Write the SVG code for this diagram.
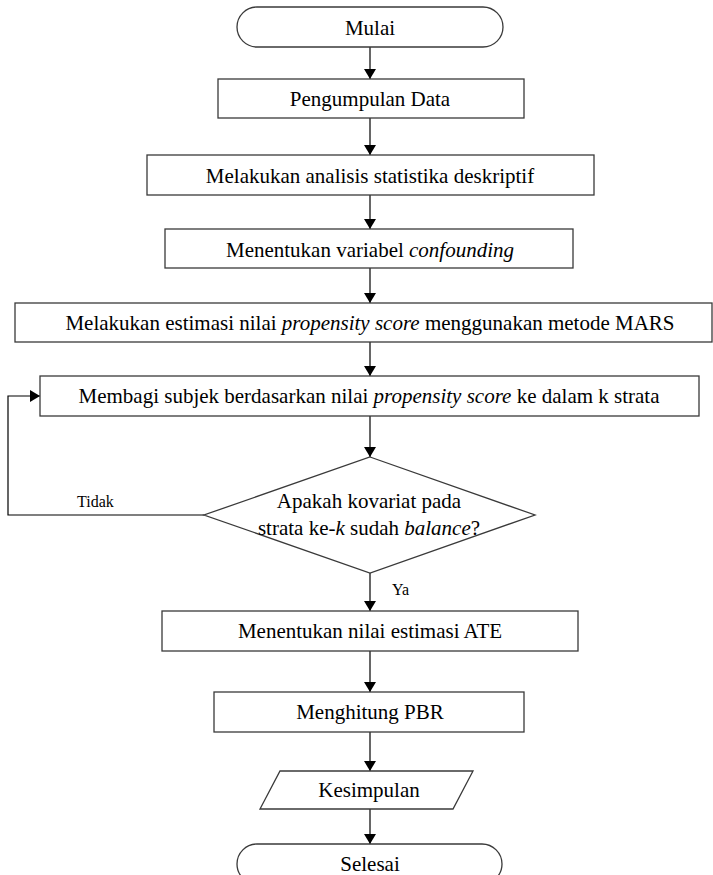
<svg xmlns="http://www.w3.org/2000/svg" width="713" height="875" viewBox="0 0 713 875">
<style>
.box{fill:#fff;stroke:#3a3a3a;stroke-width:1.3}
.t{font-family:"Liberation Serif","Times New Roman",serif;font-size:21px;fill:#000;text-anchor:middle}
.s{font-family:"Liberation Serif","Times New Roman",serif;font-size:16px;fill:#000}
.c{fill:none;stroke:#000;stroke-width:1.2}
</style>
<defs>
<marker id="ah" viewBox="0 0 10 12" refX="10" refY="6" markerWidth="10" markerHeight="12" markerUnits="userSpaceOnUse" orient="auto">
<path d="M0,0 L10,6 L0,12 Z" fill="#000"/>
</marker>
</defs>
<rect width="713" height="875" fill="#fff"/>
<g id="connectors">
<line class="c" x1="370" y1="47" x2="370" y2="79" marker-end="url(#ah)"/>
<line class="c" x1="370" y1="118" x2="370" y2="155" marker-end="url(#ah)"/>
<line class="c" x1="370" y1="195" x2="370" y2="229" marker-end="url(#ah)"/>
<line class="c" x1="370" y1="268" x2="370" y2="303" marker-end="url(#ah)"/>
<line class="c" x1="370" y1="342" x2="370" y2="376" marker-end="url(#ah)"/>
<line class="c" x1="370" y1="416" x2="370" y2="457" marker-end="url(#ah)"/>
<line class="c" x1="370" y1="573" x2="370" y2="611" marker-end="url(#ah)"/>
<line class="c" x1="370" y1="651" x2="370" y2="692" marker-end="url(#ah)"/>
<line class="c" x1="370" y1="732" x2="370" y2="771" marker-end="url(#ah)"/>
<line class="c" x1="370" y1="809" x2="370" y2="844" marker-end="url(#ah)"/>
<polyline class="c" points="204,515 8,515 8,396 40,396" marker-end="url(#ah)"/>
<text class="s" x="77" y="507">Tidak</text>
<text class="s" x="392" y="595">Ya</text>
</g>
<g id="mulai">
<rect class="box" x="237" y="7" width="266" height="40" rx="20" ry="20"/>
<text class="t" x="370" y="35">Mulai</text>
</g>
<g id="pengumpulan">
<rect class="box" x="218" y="79" width="306" height="39"/>
<text class="t" x="370" y="106">Pengumpulan Data</text>
</g>
<g id="deskriptif">
<rect class="box" x="147" y="155" width="447" height="40"/>
<text class="t" x="370" y="183">Melakukan analisis statistika deskriptif</text>
</g>
<g id="confounding">
<rect class="box" x="165" y="229" width="408" height="39"/>
<text class="t" x="370" y="257">Menentukan variabel <tspan font-style="italic">confounding</tspan></text>
</g>
<g id="mars">
<rect class="box" x="15" y="303" width="697" height="39"/>
<text class="t" x="370" y="330">Melakukan estimasi nilai <tspan font-style="italic">propensity score</tspan> menggunakan metode MARS</text>
</g>
<g id="strata">
<rect class="box" x="40" y="376" width="659" height="40"/>
<text class="t" x="369" y="403">Membagi subjek berdasarkan nilai <tspan font-style="italic">propensity score</tspan> ke dalam k strata</text>
</g>
<g id="balance">
<polygon class="box" points="370,457 535,515 370,573 204,515"/>
<text class="t" x="369" y="508">Apakah kovariat pada</text>
<text class="t" x="369" y="535">strata ke-<tspan font-style="italic">k</tspan> sudah <tspan font-style="italic">balance</tspan>?</text>
</g>
<g id="ate">
<rect class="box" x="162" y="611" width="416" height="40"/>
<text class="t" x="370" y="638">Menentukan nilai estimasi ATE</text>
</g>
<g id="pbr">
<rect class="box" x="214" y="692" width="310" height="40"/>
<text class="t" x="370" y="719">Menghitung PBR</text>
</g>
<g id="kesimpulan">
<polygon class="box" points="280,771 473,771 453,809 260,809"/>
<text class="t" x="369" y="797">Kesimpulan</text>
</g>
<g id="selesai">
<rect class="box" x="237" y="844" width="265" height="40" rx="20" ry="20"/>
<text class="t" x="370" y="871">Selesai</text>
</g>
</svg>
